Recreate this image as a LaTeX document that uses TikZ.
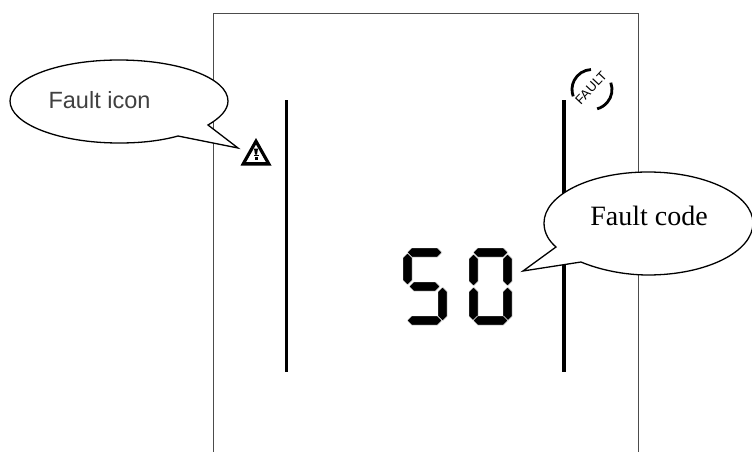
\documentclass[tikz,border=0pt]{standalone}
\usepackage{fontspec}
\setmainfont{Liberation Serif}
\setsansfont{Liberation Sans}
\tikzset{
  x=1pt,y=-1pt,
  panel/.style={draw=black!70,line width=0.8pt},
  bar/.style={draw=black,line width=3.6pt},
  bubble/.style={draw=black,fill=white,line width=1.3pt,line join=miter},
  seg/.style={fill=black,draw=white,line width=0.4pt},
  arcmark/.style={line width=2.8pt},
}
\newcommand{\hseg}[3]{\filldraw[seg] (#1,#3) -- (#1+4.5,#3-4.5) -- (#2-4.5,#3-4.5) -- (#2,#3) -- (#2-4.5,#3+4.5) -- (#1+4.5,#3+4.5) -- cycle;}
\newcommand{\vseg}[3]{\filldraw[seg] (#1,#2) -- (#1+4.5,#2+4.5) -- (#1+4.5,#3-4.5) -- (#1,#3) -- (#1-4.5,#3-4.5) -- (#1-4.5,#2+4.5) -- cycle;}
\begin{document}
\begin{tikzpicture}
\useasboundingbox (0,0) rectangle (752,452);
\draw[panel] (213,452) -- (213,13) -- (638,13) -- (638,452);
\draw[bar] (286.5,100) -- (286.5,372);
\draw[bar] (564,100) -- (564,372);
% digit S
\hseg{407}{442}{252.5}
\vseg{407.5}{253}{285}
\hseg{409}{440}{286.5}
\vseg{442.5}{287}{321}
\hseg{407}{442}{320.5}
% digit 0
\hseg{473}{508}{252.5}
\vseg{473.5}{254}{286}
\vseg{507.5}{254}{286}
\vseg{473.5}{287}{321}
\vseg{507.5}{287}{321}
\hseg{473}{508}{320.5}
% warning icon
\fill[even odd rule] (256,138) -- (271.5,165.5) -- (240.5,165.5) -- cycle
  (256,144.5) -- (265.9,162) -- (246.1,162) -- cycle;
\fill (254,148.5) -- (258,148.5) -- (257,154.5) -- (255,154.5) -- cycle;
\fill (253.5,155.2) rectangle (258.5,156.4);
\fill (254.5,157.4) rectangle (257.5,160);
% FAULT icon
\node[font=\sffamily\fontsize{13}{14}\selectfont,rotate=47,inner sep=0pt] (faultlabel) at (591,88) {FAULT};
\draw[arcmark] (592,89.5) ++(-93:20) arc (-93:-200:20);
\draw[arcmark] (592,89.5) ++(-20:20) arc (-20:75:20);
% bubbles
\coordinate (tipA) at (238,148);
\coordinate (tipB) at (523,271);
\draw[bubble] (208,125) -- (tipA) -- (178,136)
  .. controls (160,141) and (140,143) .. (119,143)
  .. controls (59,143) and (10,124) .. (10,101)
  .. controls (10,78) and (59,60) .. (119,60)
  .. controls (179,60) and (228,78) .. (228,101)
  .. controls (228,110) and (220,118) .. cycle;
\node[font=\sffamily\fontsize{23.5}{26}\selectfont,text=black!75,inner sep=0pt,anchor=base] (labelA) at (99.5,108) {Fault icon};
\draw[bubble] (556,247) -- (tipB) -- (581,262)
  .. controls (600,270) and (625,275) .. (648,275)
  .. controls (706,275) and (753,252) .. (753,223)
  .. controls (753,195) and (706,172) .. (648,172)
  .. controls (590,172) and (544,195) .. (544,223)
  .. controls (544,233) and (549,241) .. cycle;
\node[font=\rmfamily\fontsize{28}{30}\selectfont,inner sep=0pt,anchor=base] (labelB) at (649,225) {Fault code};
\end{tikzpicture}
\end{document}
